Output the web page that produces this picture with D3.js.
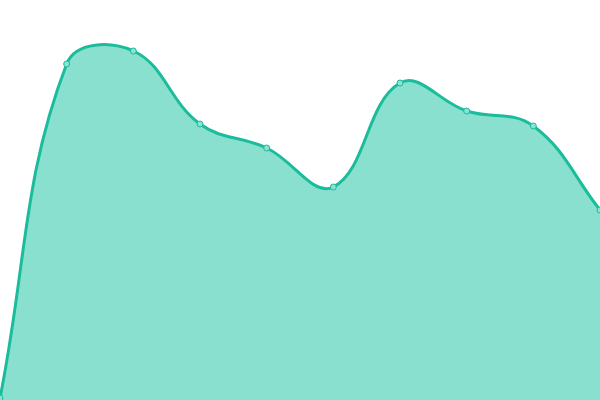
<!DOCTYPE html>
<html>
<head>
<meta charset="utf-8">
<script src="https://cdn.jsdelivr.net/npm/d3@7"></script>
<style>
  html, body { margin: 0; padding: 0; background: #fff; }
  svg { display: block; }
</style>
</head>
<body>
<svg id="chart"></svg>
<script>
// data
const labels = ['1', '2', '3', '4', '5', '6', '7', '8', '9', '10'];
const values = [2, 336, 349, 276, 252, 213, 317, 289, 274, 190];

const width = 600;
const height = 400;

const svg = d3.select('#chart')
    .attr('width', width)
    .attr('height', height);

const xScale = d3.scalePoint()
    .domain(labels)
    .range([0, width]);

const yScale = d3.scaleLinear()
    .domain([0, 400])
    .range([height, 0]);

// spline with distance-weighted control points (tension 0.4)
function SplineCurve(context, tension) {
    this._context = context;
    this._t = tension;
}
SplineCurve.prototype = {
    areaStart: function() { this._line = 0; },
    areaEnd: function() { this._line = NaN; },
    lineStart: function() { this._pts = []; },
    point: function(x, y) { this._pts.push([+x, +y]); },
    lineEnd: function() {
        const p = this._pts, n = p.length, c = this._context, t = this._t;
        if (n) {
            this._line ? c.lineTo(p[0][0], p[0][1]) : c.moveTo(p[0][0], p[0][1]);
            if (n > 2) {
                const cps = p.map((cur, i) => {
                    const prev = p[Math.max(i - 1, 0)], next = p[Math.min(i + 1, n - 1)];
                    const d01 = Math.hypot(cur[0] - prev[0], cur[1] - prev[1]);
                    const d12 = Math.hypot(next[0] - cur[0], next[1] - cur[1]);
                    let s01 = d01 / (d01 + d12), s12 = d12 / (d01 + d12);
                    if (isNaN(s01)) s01 = 0;
                    if (isNaN(s12)) s12 = 0;
                    const fa = t * s01, fb = t * s12;
                    const clampY = v => Math.max(0, Math.min(height, v));
                    return {
                        inX: cur[0] - fa * (next[0] - prev[0]),
                        inY: clampY(cur[1] - fa * (next[1] - prev[1])),
                        outX: cur[0] + fb * (next[0] - prev[0]),
                        outY: clampY(cur[1] + fb * (next[1] - prev[1]))
                    };
                });
                for (let i = 1; i < n; i++) {
                    c.bezierCurveTo(cps[i - 1].outX, cps[i - 1].outY, cps[i].inX, cps[i].inY, p[i][0], p[i][1]);
                }
            } else {
                for (let i = 1; i < n; i++) c.lineTo(p[i][0], p[i][1]);
            }
        }
        if (this._line || (this._line !== 0 && n === 1)) c.closePath();
        this._line = 1 - this._line;
    }
};
const curve = context => new SplineCurve(context, 0.4);

const area = d3.area()
    .x((d, i) => xScale(labels[i]))
    .y0(height)
    .y1(d => yScale(d))
    .curve(curve);

const line = d3.line()
    .x((d, i) => xScale(labels[i]))
    .y(d => yScale(d))
    .curve(curve);

svg.append('path')
    .datum(values)
    .attr('d', area)
    .attr('fill', '#89e0cf');

svg.append('path')
    .datum(values)
    .attr('d', line)
    .attr('fill', 'none')
    .attr('stroke', '#1abc9c')
    .attr('stroke-width', 3);

svg.selectAll('.dot')
    .data(values)
    .enter()
    .append('circle')
        .attr('class', 'dot')
        .attr('cx', (d, i) => xScale(labels[i]))
        .attr('cy', d => yScale(d))
        .attr('r', 3)
        .attr('fill', '#8de1d0')
        .attr('stroke', '#1abc9c')
        .attr('stroke-width', 1);
</script>
</body>
</html>
